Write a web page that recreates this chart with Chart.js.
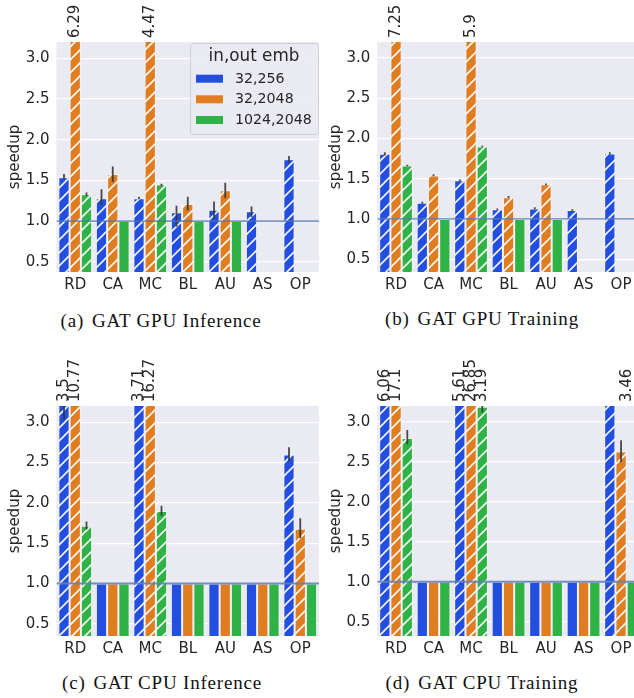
<!DOCTYPE html>
<html><head><meta charset="utf-8">
<script src="https://cdn.jsdelivr.net/npm/chart.js@4/dist/chart.umd.min.js"></script>
<style>
html,body{margin:0;padding:0;background:#fff;overflow:hidden;width:634px;height:698px;}
canvas{position:absolute;}
.cap{position:absolute;font-family:'Liberation Serif','Times New Roman',serif;font-size:19px;letter-spacing:0.8px;color:#111;white-space:nowrap;transform:translate(-50%,-50%);}
.cap .l{margin-right:8px;}
</style></head><body>
<canvas id="pa" style="left:0;top:0;width:320px;height:300px" width="320" height="300"></canvas>
<canvas id="pb" style="left:320px;top:0;width:320px;height:300px" width="320" height="300"></canvas>
<canvas id="pc" style="left:0;top:344px;width:320px;height:320px" width="320" height="320"></canvas>
<canvas id="pd" style="left:320px;top:344px;width:320px;height:320px" width="320" height="320"></canvas>
<div class="cap" style="left:161px;top:321px"><span class="l">(a)</span>GAT GPU Inference</div>
<div class="cap" style="left:482px;top:319px"><span class="l">(b)</span>GAT GPU Training</div>
<div class="cap" style="left:162px;top:683px"><span class="l">(c)</span>GAT CPU Inference</div>
<div class="cap" style="left:482px;top:683px"><span class="l">(d)</span>GAT CPU Training</div>
<script>
// ---------- data ----------
const categories = ['RD','CA','MC','BL','AU','AS','OP'];
const seriesNames = ['32,256','32,2048','1024,2048'];
const yTicks = [0.5, 1.0, 1.5, 2.0, 2.5, 3.0];
const yMax = 3.2;

// (a) GAT GPU Inference
const gpuInf_32_256    = [1.54, 1.28, 1.28, 1.11, 1.14, 1.12, 1.76];
const gpuInf_32_2048   = [6.29, 1.58, 4.47, 1.21, 1.38, null, null];
const gpuInf_1024_2048 = [1.33, 1.0, 1.45, 1.0, 1.0, null, null];
const gpuInf_32_256_err    = [[1.52,1.58],[1.20,1.39],[1.27,1.30],[0.93,1.19],[1.03,1.24],[1.05,1.18],[1.72,1.80]];
const gpuInf_32_2048_err   = [[6.0,6.6],[1.48,1.67],[4.3,4.6],[1.13,1.30],[1.28,1.47],null,null];
const gpuInf_1024_2048_err = [[1.31,1.35],null,[1.43,1.46],null,null,null,null];

// (b) GAT GPU Training
const gpuTrn_32_256    = [1.81, 1.20, 1.48, 1.12, 1.13, 1.11, 1.815];
const gpuTrn_32_2048   = [7.25, 1.54, 5.9, 1.27, 1.43, null, null];
const gpuTrn_1024_2048 = [1.665, 1.0, 1.90, 1.0, 1.0, null, null];
const gpuTrn_32_256_err    = [[1.79,1.83],[1.19,1.215],[1.47,1.49],[1.11,1.13],[1.12,1.145],[1.10,1.12],[1.80,1.83]];
const gpuTrn_32_2048_err   = [[7.1,7.4],[1.53,1.555],[5.8,6.0],[1.26,1.285],[1.42,1.44],null,null];
const gpuTrn_1024_2048_err = [[1.655,1.675],null,[1.89,1.91],null,null,null,null];

// (c) GAT CPU Inference
const cpuInf_32_256    = [3.5, 1.0, 3.71, 1.0, 1.0, 1.0, 2.60];
const cpuInf_32_2048   = [10.77, 1.0, 16.27, 1.0, 1.0, 1.0, 1.68];
const cpuInf_1024_2048 = [1.716, 1.0, 1.90, 1.0, 1.0, 1.0, 1.0];
const cpuInf_32_256_err    = [[3.03,3.97],null,[3.35,4.05],null,null,null,[2.515,2.69]];
const cpuInf_32_2048_err   = [[10.0,11.5],null,[15.0,17.5],null,null,null,[1.56,1.81]];
const cpuInf_1024_2048_err = [[1.67,1.77],null,[1.84,1.965],null,null,null,null];

// (d) GAT CPU Training
const cpuTrn_32_256    = [6.06, 1.0, 5.61, 1.0, 1.0, 1.0, 3.46];
const cpuTrn_32_2048   = [17.1, 1.0, 26.85, 1.0, 1.0, 1.0, 2.63];
const cpuTrn_1024_2048 = [2.80, 1.0, 3.19, 1.0, 1.0, 1.0, 1.0];
const cpuTrn_32_256_err    = [[5.7,6.4],null,[5.3,5.9],null,null,null,[3.3,3.6]];
const cpuTrn_32_2048_err   = [[16.0,18.2],null,[25.0,28.5],null,null,null,[2.50,2.77]];
const cpuTrn_1024_2048_err = [[2.72,2.90],null,[3.12,3.26],null,null,null,null];

// ---------- styling ----------
const colors = ['#224fdf', '#df7d20', '#30b346'];
const FONT = 'DejaVu Sans';
const TXT = '#262626';
const FS = 15;

function makeHatch(color){
  const s = 13;
  const c = document.createElement('canvas');
  c.width = s; c.height = s;
  const x = c.getContext('2d');
  x.fillStyle = color; x.fillRect(0,0,s,s);
  x.strokeStyle = 'rgba(255,255,255,0.95)';
  x.lineWidth = 1.6;
  x.beginPath();
  x.moveTo(-1, s+1); x.lineTo(s+1, -1);
  x.moveTo(-2, 2); x.lineTo(2, -2);
  x.moveTo(s-2, s+2); x.lineTo(s+2, s-2);
  x.stroke();
  return x.createPattern(c, 'repeat');
}
const hatches = colors.map(makeHatch);

function buildChart(id, series, errs, opts){
  const canvas = document.getElementById(id);
  const datasets = series.map((vals, i) => ({
    label: seriesNames[i],
    data: vals,
    backgroundColor: (ctx) => (ctx.raw === 1 ? colors[i] : hatches[i]),
    borderColor: 'rgba(255,255,255,0.55)',
    borderWidth: 1,
    borderSkipped: 'start',
    categoryPercentage: 0.9,
    barPercentage: 1.0
  }));

  const plugin = {
    id: 'custom_' + id,
    beforeDraw(chart){
      const a = chart.chartArea, c = chart.ctx;
      c.save(); c.fillStyle = '#eaeaf2';
      c.fillRect(a.left, a.top, a.right - a.left, a.bottom - a.top);
      c.restore();
    },
    afterDatasetsDraw(chart){
      const a = chart.chartArea, c = chart.ctx, y = chart.scales.y;
      c.save();
      c.beginPath(); c.rect(a.left, a.top, a.right - a.left, a.bottom - a.top); c.clip();
      c.strokeStyle = 'rgba(55,55,55,0.9)'; c.lineWidth = 1.8;
      chart.data.datasets.forEach((ds, i) => {
        const meta = chart.getDatasetMeta(i);
        meta.data.forEach((el, j) => {
          const e = errs[i][j];
          if (!e || ds.data[j] == null) return;
          c.beginPath();
          c.moveTo(el.x, y.getPixelForValue(e[0]));
          c.lineTo(el.x, y.getPixelForValue(e[1]));
          c.stroke();
        });
      });
      const y1 = y.getPixelForValue(1.0);
      c.strokeStyle = opts.refColor; c.lineWidth = opts.refWidth;
      c.beginPath(); c.moveTo(a.left, y1); c.lineTo(a.right, y1); c.stroke();
      c.restore();
    },
    afterDraw(chart){
      const a = chart.chartArea, c = chart.ctx;
      c.save();
      c.fillStyle = TXT; c.font = FS + 'px "' + FONT + '"';
      c.textAlign = 'left'; c.textBaseline = 'middle';
      chart.data.datasets.forEach((ds, i) => {
        const meta = chart.getDatasetMeta(i);
        meta.data.forEach((el, j) => {
          const v = ds.data[j];
          if (v == null || v <= 3.1) return;
          const shift = (opts.labelShift && opts.labelShift[j + ',' + i]) || 0;
          c.save();
          c.translate(el.x + shift * el.width, a.top - 4);
          c.rotate(-Math.PI / 2);
          c.fillText(String(v), 0, 0);
          c.restore();
        });
      });
      c.restore();
      if (opts.legend){
        const bx = 190, by = 43, bw = 128, bh = 91;
        c.save();
        c.fillStyle = 'rgba(234,234,242,0.85)';
        c.strokeStyle = '#cfcfd6'; c.lineWidth = 1;
        c.beginPath();
        if (c.roundRect) c.roundRect(bx + 0.5, by + 0.5, bw, bh, 3); else c.rect(bx + 0.5, by + 0.5, bw, bh);
        c.fill(); c.stroke();
        c.fillStyle = TXT;
        c.textBaseline = 'middle';
        c.textAlign = 'center';
        c.font = '16.8px "' + FONT + '"';
        c.fillText('in,out emb', bx + bw / 2, 57);
        c.textAlign = 'left';
        c.font = '14.2px "' + FONT + '"';
        const rows = [78.7, 99.3, 120];
        seriesNames.forEach((n, i) => {
          c.fillStyle = colors[i];
          c.fillRect(196, rows[i] - 4, 27, 8);
          c.fillStyle = TXT;
          c.fillText(n, 235, rows[i] + 0.5);
        });
        c.restore();
      }
    }
  };

  return new Chart(canvas, {
    type: 'bar',
    data: { labels: categories, datasets },
    plugins: [plugin],
    options: {
      responsive: false,
      animation: false,
      events: [],
      layout: { padding: opts.padding },
      plugins: { legend: { display: false }, tooltip: { enabled: false } },
      scales: {
        x: {
          grid: { display: false, drawTicks: false },
          border: { display: false },
          ticks: { color: TXT, font: { family: FONT, size: FS }, padding: 4, maxRotation: 0, autoSkip: false },
          afterFit: (s) => { s.height = 28; }
        },
        y: {
          min: opts.ymin, max: yMax,
          grid: { color: '#ffffff', lineWidth: 1.2, drawTicks: false },
          border: { display: false },
          ticks: {
            color: TXT, font: { family: FONT, size: FS }, padding: 7,
            stepSize: 0.5, includeBounds: false,
            callback: (v) => v.toFixed(1)
          },
          afterBuildTicks: (s) => { s.ticks = yTicks.map(v => ({ value: v })); },
          title: { display: true, text: 'speedup', color: TXT, font: { family: FONT, size: FS }, padding: 0 },
          afterFit: (s) => { s.width = 50; }
        }
      }
    }
  });
}

buildChart('pa', [gpuInf_32_256, gpuInf_32_2048, gpuInf_1024_2048],
  [gpuInf_32_256_err, gpuInf_32_2048_err, gpuInf_1024_2048_err],
  { ymin: 0.375, legend: true, padding: { left: 6.5, right: 1, top: 42, bottom: 0 }, refColor: '#4f72b3', refWidth: 1.2 });
buildChart('pb', [gpuTrn_32_256, gpuTrn_32_2048, gpuTrn_1024_2048],
  [gpuTrn_32_256_err, gpuTrn_32_2048_err, gpuTrn_1024_2048_err],
  { ymin: 0.34, padding: { left: 7.3, right: 0.2, top: 42, bottom: 0 }, refColor: '#5a7dbb', refWidth: 1.3 });
buildChart('pc', [cpuInf_32_256, cpuInf_32_2048, cpuInf_1024_2048],
  [cpuInf_32_256_err, cpuInf_32_2048_err, cpuInf_1024_2048_err],
  { ymin: 0.35, padding: { left: 6.5, right: 1, top: 62, bottom: 0 }, refColor: 'rgba(100,130,182,0.9)', refWidth: 2 });
buildChart('pd', [cpuTrn_32_256, cpuTrn_32_2048, cpuTrn_1024_2048],
  [cpuTrn_32_256_err, cpuTrn_32_2048_err, cpuTrn_1024_2048_err],
  { ymin: 0.32, padding: { left: 7.3, right: 0.2, top: 62, bottom: 0 }, refColor: 'rgba(100,130,182,0.9)', refWidth: 2,
    labelShift: { '6,0': 1.5 } });
</script>
</body></html>
